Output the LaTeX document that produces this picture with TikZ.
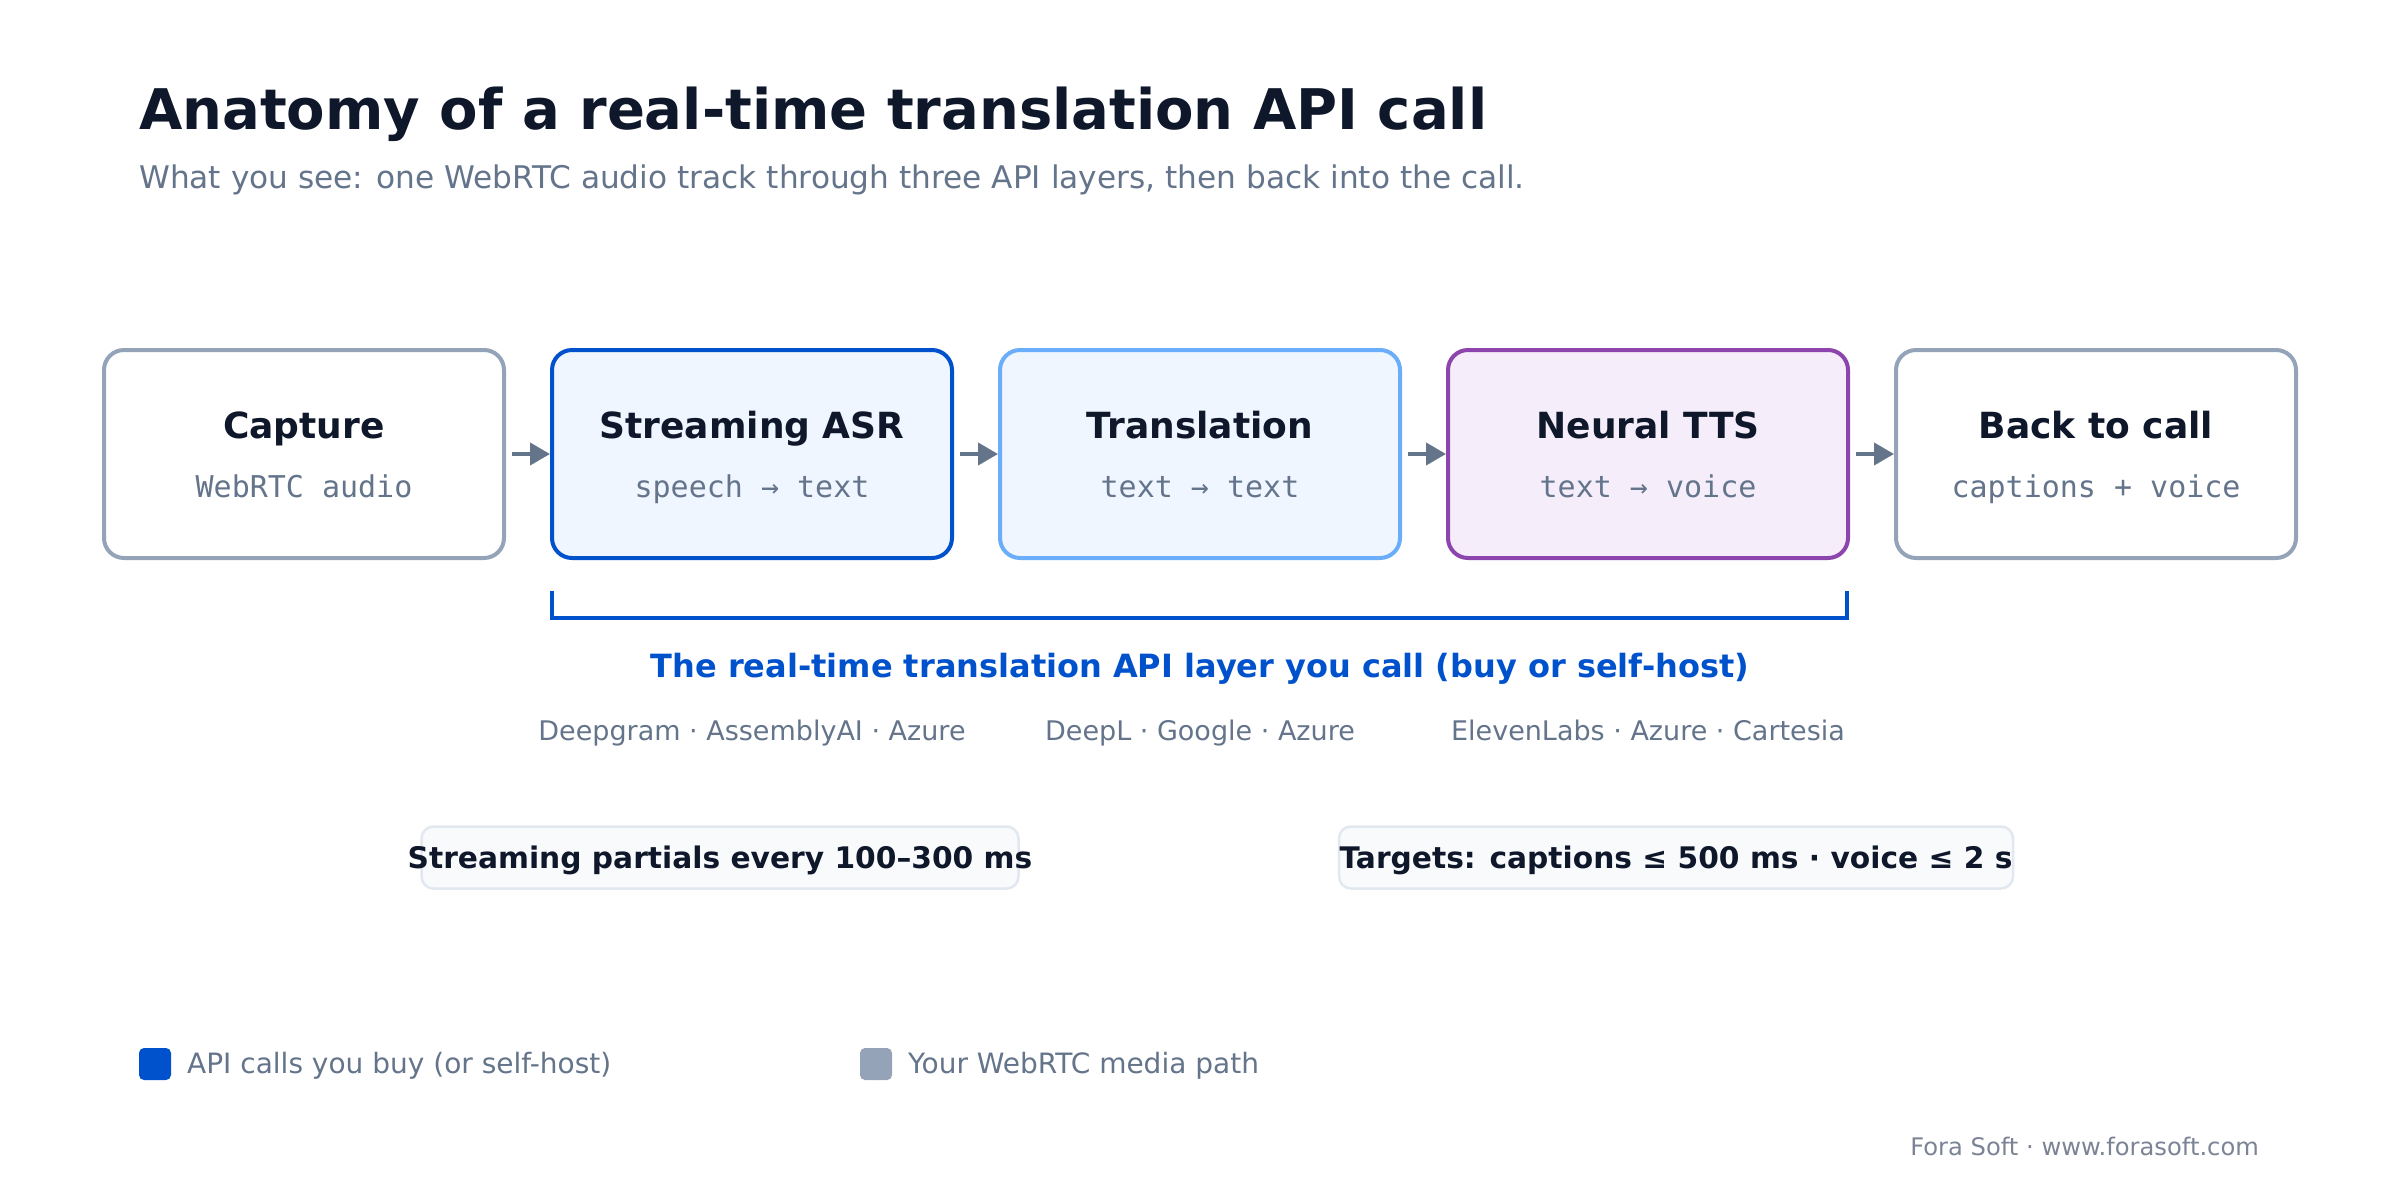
\documentclass[tikz,border=0pt]{standalone}
\usepackage{fontspec}
\setmainfont{DejaVu Sans}
\newfontfamily\monof{DejaVu Sans Mono}
\usetikzlibrary{arrows.meta}
\definecolor{ink}{HTML}{0F172A}
\definecolor{muted}{HTML}{64748B}
\definecolor{slate}{HTML}{94A3B8}
\definecolor{apiblue}{HTML}{0052CC}
\definecolor{lightblue}{HTML}{6AADFA}
\definecolor{bluefill}{HTML}{EFF6FF}
\definecolor{purp}{HTML}{8E44AD}
\definecolor{purpfill}{HTML}{F5EEFA}
\definecolor{callline}{HTML}{E2E8F0}
\definecolor{callfill}{HTML}{F8FAFC}
\definecolor{foot}{HTML}{7B8394}
\begin{document}
\begin{tikzpicture}[x=1pt,y=-1pt,
  stage/.style={draw, rounded corners=20pt, line width=4pt, minimum width=400pt, minimum height=208pt, inner sep=0pt},
  ttl/.style={anchor=base, font=\fontsize{36}{40}\selectfont\bfseries, text=ink, inner sep=0pt},
  subt/.style={anchor=base, font=\fontsize{30}{34}\selectfont\monof, text=muted, inner sep=0pt},
  arr/.style={draw=muted, line width=4pt, -{Triangle[length=20pt,width=22pt]}},
  prov/.style={anchor=base, font=\fontsize{27}{31}\selectfont, text=muted, inner sep=0pt},
  callbox/.style={draw=callline, fill=callfill, line width=2.5pt, rounded corners=12pt, minimum height=62pt, inner sep=0pt},
  calltext/.style={anchor=base, font=\fontsize{29.7}{34}\selectfont\bfseries, text=ink, inner sep=0pt},
  legsq/.style={rounded corners=5pt, minimum width=32pt, minimum height=32pt, inner sep=0pt},
  legtext/.style={anchor=base west, font=\fontsize{28}{32}\selectfont, text=muted, inner sep=0pt}
]
\useasboundingbox[fill=white] (0,0) rectangle (2400,1200);

% heading
\node[anchor=base west, inner sep=0pt, font=\fontsize{56}{60}\selectfont\bfseries, text=ink] (title) at (139,129) {Anatomy of a real-time translation API call};
\node[anchor=base west, inner sep=0pt, font=\fontsize{31.2}{36}\selectfont, text=muted] (subtitle) at (139,188) {What you see: one WebRTC audio track through three API layers, then back into the call.};

% stages
\node[stage, draw=slate, fill=white] (cap) at (304,454) {};
\node[stage, draw=apiblue, fill=bluefill] (asr) at (752,454) {};
\node[stage, draw=lightblue, fill=bluefill] (tr) at (1200,454) {};
\node[stage, draw=purp, fill=purpfill] (tts) at (1648,454) {};
\node[stage, draw=slate, fill=white] (back) at (2096,454) {};

\node[ttl] (capT) at (304,438) {Capture};
\node[subt] (capS) at (304,497) {WebRTC audio};
\node[ttl] (asrT) at (752,438) {Streaming ASR};
\node[subt] (asrS) at (752,497) {speech → text};
\node[ttl] (trT) at (1200,438) {Translation};
\node[subt] (trS) at (1200,497) {text → text};
\node[ttl] (ttsT) at (1648,438) {Neural TTS};
\node[subt] (ttsS) at (1648,497) {text → voice};
\node[ttl] (backT) at (2096,438) {Back to call};
\node[subt] (backS) at (2096,497) {captions + voice};

% arrows
\draw[arr] ([xshift=6pt]cap.east) -- (asr.west);
\draw[arr] ([xshift=6pt]asr.east) -- (tr.west);
\draw[arr] ([xshift=6pt]tr.east) -- (tts.west);
\draw[arr] ([xshift=6pt]tts.east) -- (back.west);

% bracket
\coordinate (bA) at (552,591);
\coordinate (bB) at (552,618);
\coordinate (bC) at (1847,618);
\coordinate (bD) at (1847,591);
\draw[apiblue, line width=4pt] (bA) -- (bB) -- (bC) -- (bD);
\node[anchor=base, inner sep=0pt, font=\fontsize{32}{36}\selectfont\bfseries, text=apiblue] (layer) at (1200,677) {The real-time translation API layer you call (buy or self-host)};

\node[prov] (p1) at (752,740) {Deepgram · AssemblyAI · Azure};
\node[prov] (p2) at (1200,740) {DeepL · Google · Azure};
\node[prov] (p3) at (1648,740) {ElevenLabs · Azure · Cartesia};

% callouts
\node[callbox, minimum width=597pt] (c1) at (720,857.5) {};
\node[calltext] (c1t) at (720,868) {Streaming partials every 100–300 ms};
\node[callbox, minimum width=674pt] (c2) at (1676,857.5) {};
\node[calltext] (c2t) at (1676,868) {Targets: captions ≤ 500 ms · voice ≤ 2 s};

% legend
\node[legsq, fill=apiblue] (l1) at (155,1064) {};
\node[legtext] (l1t) at (187,1073) {API calls you buy (or self-host)};
\node[legsq, fill=slate] (l2) at (876,1064) {};
\node[legtext] (l2t) at (908,1073) {Your WebRTC media path};

% footer
\node[anchor=base east, inner sep=0pt, font=\fontsize{24.2}{28}\selectfont, text=foot] (foot) at (2259,1155) {Fora Soft · www.forasoft.com};
\end{tikzpicture}
\end{document}
